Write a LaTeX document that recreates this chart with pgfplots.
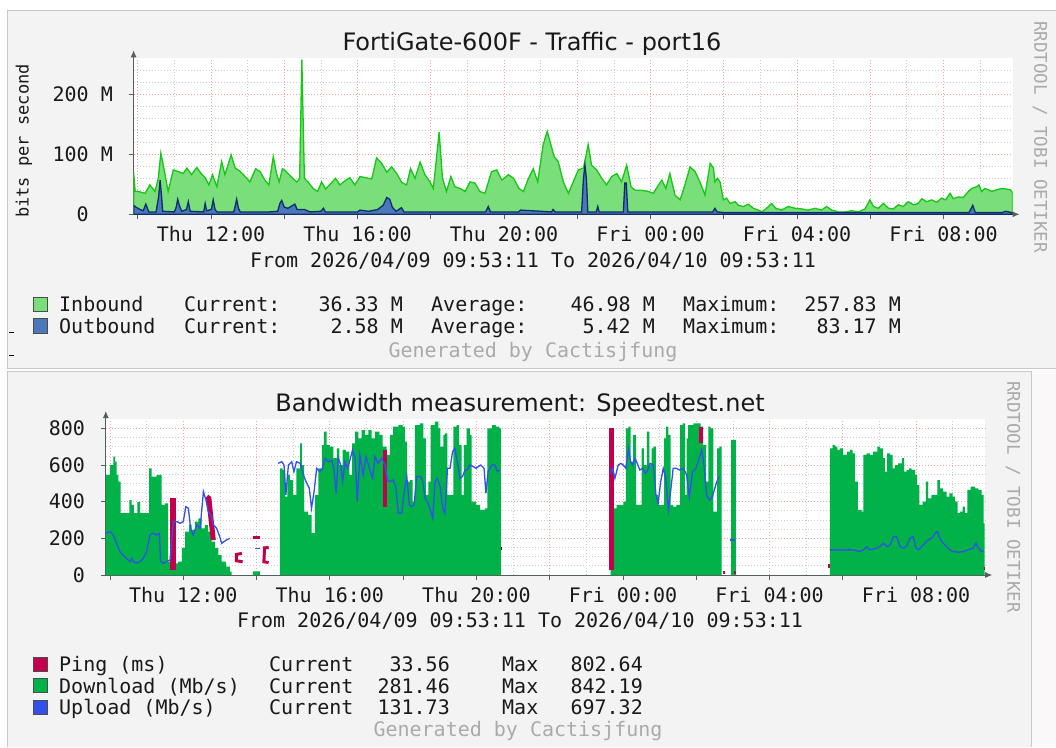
\documentclass[border=0pt]{standalone}
\usepackage{fontspec}
\setmainfont{DejaVu Sans}
\newfontfamily\mono{DejaVu Sans Mono}
\usepackage{pgfplots}
\pgfplotsset{compat=1.18}
\usetikzlibrary{arrows.meta}

\definecolor{panel}{RGB}{243,243,243}
\definecolor{rstrip}{RGB}{250,248,248}
\definecolor{panelborder}{RGB}{200,200,200}
\definecolor{inbfill}{RGB}{122,222,122}
\definecolor{inbline}{RGB}{20,200,20}
\definecolor{outfill}{RGB}{75,120,185}
\definecolor{outline}{RGB}{15,45,105}
\definecolor{dlgreen}{RGB}{0,178,72}
\definecolor{ulblue}{RGB}{50,80,235}
\definecolor{pingred}{RGB}{195,0,75}
\definecolor{mgrid}{RGB}{240,165,165}
\definecolor{ngrid}{RGB}{205,205,205}
\definecolor{axisgray}{RGB}{85,95,95}
\definecolor{txt}{RGB}{25,25,25}
\definecolor{faint}{RGB}{170,170,170}

\newcommand{\mf}{\mono\fontsize{20}{24}\selectfont}
\newcommand{\tf}{\fontsize{24}{28}\selectfont}

\pgfplotsset{
  rrd/.style={
    scale only axis,
    anchor=south west,
    axis x line*=bottom, axis y line*=left,
    every outer x axis line/.style={axisgray, line width=1pt, -{Latex[length=7pt,width=6pt]}, shorten >=-7pt},
    every outer y axis line/.style={axisgray, line width=1pt, -{Latex[length=7pt,width=6pt]}, shorten >=-8pt},
    axis background/.style={fill=white},
    xmin=9.886, xmax=33.886, ymin=0,
    xtick={10,12,...,32},
    xticklabels={,Thu 12:00,,Thu 16:00,,Thu 20:00,,Fri 00:00,,Fri 04:00,,Fri 08:00},
    minor xtick={11,13,...,33},
    grid=both,
    major grid style={mgrid, line width=0.7pt, dash pattern=on 1.5pt off 1.5pt},
    minor grid style={ngrid, line width=0.7pt, dash pattern=on 1.5pt off 1.5pt},
    tick style={axisgray, line width=0.8pt},
    tick align=outside,
    major tick length=5pt, minor tick length=0pt,
    xticklabel style={font=\mf, text=txt, anchor=base, inner sep=0pt, yshift=-22.5pt},
    yticklabel style={font=\mf, text=txt, anchor=east, inner sep=0pt, xshift=-15.6pt},
  }
}

\begin{document}
\begin{tikzpicture}
\useasboundingbox (0pt,0pt) rectangle (1056pt,-747pt);
\fill[white] (0pt,0pt) rectangle (1056pt,-747pt);
% panels
\fill[panel] (7pt,-10pt) rectangle (1056pt,-368pt);
\draw[panelborder, line width=1pt] (1056pt,-10pt) -- (7pt,-10pt) -- (7pt,-368pt) -- (1056pt,-368pt);
\fill[rstrip] (1031pt,-370pt) rectangle (1056pt,-747pt);
\fill[panel] (7pt,-371pt) rectangle (1031pt,-747pt);
\draw[panelborder, line width=1pt] (7pt,-747pt) -- (7pt,-371pt) -- (1031pt,-371pt) -- (1031pt,-747pt);
\draw[black, line width=0.6pt] (9pt,-332pt) -- (14pt,-332pt);
\draw[black, line width=0.6pt] (9pt,-355pt) -- (14pt,-355pt);

% ---------------- top chart ----------------
\begin{axis}[rrd, at={(133.6pt,-214.3pt)}, width=878.9pt, height=156pt,
  ymax=260, ytick={0,100,200}, yticklabels={0\phantom{\ M},100 M,200 M},
  minor ytick={20,40,60,80,120,140,160,180,220,240}]
\addplot[fill=inbfill, draw=inbline, line width=1.3pt] coordinates {
(9.886,70) (9.93,38) (10.02,38) (10.20,35) (10.33,49) (10.47,38) (10.56,60) (10.63,102) (10.73,71) (10.83,38)
(10.97,74) (11.11,71) (11.24,68) (11.34,77) (11.47,66) (11.61,78) (11.73,68) (11.84,61) (11.94,49) (12.04,66)
(12.16,46) (12.29,88) (12.38,66) (12.55,99) (12.66,77) (12.79,72) (12.93,63) (13.06,54) (13.22,76) (13.34,71)
(13.47,57) (13.58,49) (13.70,96) (13.79,68) (13.86,54) (13.95,76) (14.04,72) (14.18,63) (14.34,54) (14.42,60)
(14.48,257.8) (14.55,60) (14.66,53) (14.79,43) (14.91,38) (15.02,54) (15.13,42) (15.25,50) (15.40,60) (15.52,49)
(15.66,56) (15.79,61) (15.93,49) (16.07,63) (16.22,61) (16.39,59) (16.52,94) (16.66,85) (16.80,70) (16.93,79)
(17.07,68) (17.21,53) (17.34,49) (17.45,76) (17.57,60) (17.71,87) (17.84,66) (17.98,54) (18.07,43) (18.23,137)
(18.32,60) (18.43,38) (18.55,63) (18.66,46) (18.80,43) (18.94,38) (19.07,54) (19.21,52) (19.34,38) (19.48,35)
(19.66,71) (19.80,74) (19.94,57) (20.12,66) (20.26,60) (20.41,43) (20.53,38) (20.67,60) (20.80,76) (20.92,54)
(21.07,116) (21.18,138) (21.28,116) (21.37,96) (21.48,88) (21.62,54) (21.76,35) (21.89,54) (22.03,74) (22.17,77)
(22.30,116) (22.39,82) (22.53,74) (22.67,60) (22.80,49) (22.94,63) (23.08,68) (23.21,54) (23.35,82) (23.47,46)
(23.58,40) (23.76,40) (23.94,38) (24.08,35) (24.22,49) (24.31,57) (24.42,43) (24.53,68) (24.67,32) (24.81,24)
(24.94,49) (25.08,79) (25.22,71) (25.35,54) (25.49,32) (25.63,85) (25.72,77) (25.76,54) (25.83,60) (25.90,54)
(25.99,24) (26.08,27) (26.17,18) (26.31,21) (26.40,15) (26.54,13) (26.67,17) (26.81,10) (26.95,7) (27.04,4)
(27.17,10) (27.31,18) (27.42,10) (27.58,7) (27.76,13) (27.95,10) (28.13,9) (28.31,7) (28.49,10) (28.67,7)
(28.81,13) (28.95,7) (29.13,4) (29.31,4) (29.49,6) (29.68,4) (29.86,9) (29.99,24) (30.09,13) (30.22,10)
(30.36,18) (30.50,10) (30.63,9) (30.77,16) (30.90,13) (31.04,21) (31.18,16) (31.31,18) (31.41,26) (31.54,21)
(31.68,24) (31.82,20) (31.95,27) (32.06,24) (32.18,35) (32.27,26) (32.41,29) (32.54,28) (32.68,38) (32.77,43)
(32.91,46) (32.97,49) (33.04,38) (33.13,43) (33.23,41) (33.32,38) (33.45,41) (33.59,43) (33.73,42) (33.82,41)
(33.886,36.33)
} \closedcycle;
\addplot[fill=outfill, draw=outline, line width=1.3pt] coordinates {
(9.886,15) (9.95,12) (10.06,8) (10.15,6) (10.22,17) (10.30,4) (10.50,4) (10.57,30) (10.61,57) (10.65,30)
(10.68,5) (11.00,4) (11.05,12) (11.09,25) (11.14,14) (11.20,5) (11.33,8) (11.38,21) (11.43,5) (11.80,4)
(11.84,18) (11.88,6) (12.01,8) (12.06,24) (12.11,8) (12.16,4) (12.62,4) (12.67,16) (12.70,25) (12.75,10)
(12.80,4) (13.60,4) (13.82,5) (13.88,18) (13.93,23) (14.00,12) (14.10,10) (14.29,17) (14.35,8) (14.55,8)
(14.70,4) (15.00,5) (15.07,10) (15.12,4) (16.00,4) (16.07,7) (16.30,5) (16.55,8) (16.70,15) (16.80,28)
(16.88,25) (16.95,12) (17.05,5) (17.20,11) (17.27,4) (19.50,4) (19.57,13) (19.63,4) (20.40,4) (20.45,7)
(21.30,4) (21.34,8) (21.40,4) (22.12,4) (22.17,60) (22.21,82) (22.25,60) (22.29,4) (22.52,4) (22.56,13)
(22.60,4) (23.26,4) (23.30,52) (23.34,52) (23.38,4) (25.70,4) (25.76,10) (25.82,4) (26.00,3) (32.70,3)
(32.80,15) (32.87,3) (33.60,3) (33.70,5) (33.886,2.58)
} \closedcycle;
\end{axis}

% ---------------- bottom chart ----------------
\begin{axis}[rrd, at={(105.8pt,-575pt)}, width=879.4pt, height=156pt,
  ymax=851, ytick={0,200,400,600,800}, yticklabels={0,200,400,600,800},
  minor ytick={50,100,150,250,300,350,450,500,550,650,700,750}]
% Download blocks
\addplot[const plot, fill=dlgreen, draw=none] coordinates {
(9.89,546) (10.00,600) (10.09,646) (10.14,618) (10.18,546) (10.23,509) (10.29,337) (10.45,337) (10.53,409) (10.59,382)
(10.65,337) (10.75,397) (10.82,337) (11.00,337) (11.07,582) (11.14,537) (11.27,546) (11.35,546) (11.41,382) (11.50,391)
(11.59,73) (11.68,37) (11.77,64) (11.86,73) (11.96,146) (12.05,237) (12.16,273) (12.23,246) (12.32,291) (12.41,309)
(12.50,255) (12.59,273) (12.68,237) (12.77,182) (12.87,146) (12.96,109) (13.05,73) (13.17,46) (13.27,18) (13.32,18)
} \closedcycle;
\addplot[const plot, fill=dlgreen, draw=none] coordinates {(13.90,20) (14.10,20)} \closedcycle;
\addplot[const plot, fill=dlgreen, draw=none] coordinates {
(14.64,582) (14.71,573) (14.78,427) (14.84,546) (14.91,518) (15.00,437) (15.09,582) (15.19,718) (15.24,600) (15.30,346)
(15.41,328) (15.50,228) (15.59,437) (15.69,582) (15.78,709) (15.84,782) (15.91,709) (16.00,700) (16.10,637) (16.19,691)
(16.26,600) (16.35,682) (16.44,673) (16.53,546) (16.61,718) (16.69,782) (16.78,746) (16.87,791) (16.96,764) (17.05,791)
(17.14,746) (17.23,782) (17.35,764) (17.44,700) (17.55,655) (17.64,764) (17.73,809) (17.87,818) (17.99,809) (18.05,727)
(18.11,509) (18.19,518) (18.26,400) (18.32,818) (18.46,827) (18.55,746) (18.62,437) (18.69,509) (18.75,818) (18.87,837)
(18.96,800) (19.02,700) (19.10,764) (19.14,773) (19.21,437) (19.28,437) (19.37,809) (19.46,818) (19.53,709) (19.60,437)
(19.66,709) (19.73,800) (19.82,764) (19.87,400) (19.99,382) (20.10,355) (20.23,364) (20.30,800) (20.42,818) (20.53,809)
(20.63,800) (20.67,800)
} \closedcycle;
\addplot[const plot, fill=dlgreen, draw=none] coordinates {
(23.66,382) (23.75,364) (23.83,382) (23.92,382) (24.01,400) (24.08,800) (24.15,809) (24.21,618) (24.28,764) (24.36,382)
(24.45,382) (24.51,691) (24.57,600) (24.65,782) (24.72,600) (24.78,691) (24.83,700) (24.90,437) (24.96,382) (25.05,382)
(25.12,746) (25.17,809) (25.24,764) (25.30,382) (25.37,373) (25.46,382) (25.56,818) (25.63,827) (25.69,437) (25.74,745)
(25.78,818) (25.92,827) (26.06,827) (26.12,809) (26.19,709) (26.27,509) (26.33,809) (26.39,800) (26.47,346) (26.51,346)
(26.57,691) (26.63,700) (26.69,700)
} \closedcycle;
\addplot[const plot, fill=dlgreen, draw=none] coordinates {(26.95,737) (27.08,737)} \closedcycle;
\addplot[const plot, fill=dlgreen, draw=none] coordinates {
(29.65,691) (29.72,709) (29.79,700) (29.85,682) (29.92,691) (30.01,655) (30.11,673) (30.20,682) (30.27,664) (30.33,509)
(30.41,355) (30.51,346) (30.56,655) (30.65,664) (30.74,655) (30.83,673) (30.94,700) (31.01,691) (31.09,637) (31.15,564)
(31.21,664) (31.29,655) (31.36,582) (31.42,600) (31.51,609) (31.61,637) (31.67,564) (31.74,573) (31.81,582) (31.88,573)
(31.97,546) (32.03,491) (32.09,382) (32.18,400) (32.27,509) (32.33,418) (32.42,437) (32.52,437) (32.58,518) (32.65,473)
(32.74,455) (32.83,428) (32.91,446) (33.00,428) (33.06,400) (33.13,337) (33.20,346) (33.27,373) (33.33,337) (33.40,464)
(33.49,482) (33.61,473) (33.70,464) (33.79,437) (33.84,281.46) (33.87,281.46)
} \closedcycle;
% Ping
\addplot[pingred, line width=6pt] coordinates {(11.72,418) (11.72,30)};
\addplot[pingred, line width=5pt] coordinates {(12.64,427) (12.70,418) (12.76,300) (12.82,190)};
\addplot[pingred, line width=3pt] coordinates {(13.60,118) (13.45,112) (13.45,78) (13.62,72)};
\addplot[pingred, line width=3.5pt] coordinates {(13.90,205) (14.10,205)};
\addplot[pingred, line width=3pt] coordinates {(14.33,150) (14.22,148) (14.20,72) (14.33,68)};
\addplot[pingred, line width=3.5pt] coordinates {(17.50,682) (17.50,373)};
\addplot[pingred!60!black, line width=3pt] coordinates {(20.66,146) (20.70,146)};
\addplot[pingred, line width=5pt] coordinates {(23.70,802.64) (23.70,30)};
\addplot[pingred, line width=4pt] coordinates {(26.13,809) (26.13,718)};
\addplot[pingred, line width=3pt] coordinates {(26.72,14) (26.78,14)};
\addplot[pingred, line width=3pt] coordinates {(27.02,14) (27.08,14)};
\addplot[pingred, line width=3.5pt] coordinates {(29.60,48) (29.66,48)};
\addplot[pingred, line width=3pt] coordinates {(33.84,33.56) (33.88,33.56)};
% Upload
\addplot[ulblue, line width=1.3pt] coordinates {
(9.89,228) (10.00,237) (10.09,218) (10.18,173) (10.27,128) (10.36,109) (10.45,91) (10.55,73) (10.59,91) (10.64,73)
(10.73,64) (10.82,73) (10.91,91) (11.00,128) (11.09,218) (11.18,228) (11.27,218) (11.35,228) (11.38,73) (11.46,64)
(11.55,73) (11.64,82) (11.73,291) (11.84,291) (11.91,282) (12.00,291) (12.07,373) (12.14,364) (12.20,255) (12.27,218)
(12.37,273) (12.46,255) (12.55,455) (12.62,409) (12.68,346) (12.75,328) (12.82,273) (12.91,255) (12.98,218) (13.05,173)
(13.11,182) (13.18,191) (13.27,200)
};
\addplot[ulblue, line width=1.3pt] coordinates {(13.96,146) (14.09,146)};
\addplot[ulblue, line width=1.3pt] coordinates {
(14.59,609) (14.69,618) (14.75,600) (14.80,437) (14.87,600) (14.96,618) (15.02,564) (15.09,618) (15.19,609) (15.28,546)
(15.35,509) (15.44,473) (15.50,364) (15.57,455) (15.64,582) (15.73,564) (15.80,582) (15.87,637) (15.96,618) (16.05,627)
(16.11,582) (16.17,446) (16.23,637) (16.30,600) (16.35,509) (16.41,618) (16.48,582) (16.55,627) (16.62,682) (16.69,637)
(16.75,400) (16.82,655) (16.91,546) (16.99,646) (17.08,582) (17.17,527) (17.23,646) (17.32,609) (17.41,637) (17.51,600)
(17.57,518) (17.64,509) (17.73,518) (17.80,482) (17.87,337) (17.96,337) (18.02,437) (18.10,537) (18.17,382) (18.23,373)
(18.30,382) (18.37,537) (18.46,537) (18.53,518) (18.60,418) (18.66,400) (18.73,364) (18.81,309) (18.87,509) (18.93,527)
(19.01,482) (19.08,364) (19.14,337) (19.21,582) (19.28,582) (19.35,673) (19.41,691) (19.48,618) (19.55,527) (19.62,537)
(19.69,573) (19.75,573) (19.82,600) (19.92,591) (19.99,582) (20.05,591) (20.12,600) (20.21,582) (20.26,446) (20.32,564)
(20.42,600) (20.51,600) (20.57,564) (20.63,573)
};
\addplot[ulblue, line width=1.3pt] coordinates {
(23.65,555) (23.72,582) (23.78,527) (23.87,600) (23.94,609) (24.01,600) (24.08,582) (24.15,691) (24.21,618) (24.26,600)
(24.33,637) (24.39,609) (24.46,573) (24.54,582) (24.60,555) (24.66,564) (24.74,609) (24.83,600) (24.90,437) (24.96,391)
(25.03,509) (25.10,582) (25.17,527) (25.24,355) (25.30,455) (25.37,582) (25.46,582) (25.54,573) (25.65,582) (25.74,546)
(25.81,427) (25.90,564) (25.99,582) (26.08,637) (26.15,682) (26.21,600) (26.28,437) (26.36,409) (26.42,418) (26.48,455)
(26.56,509) (26.63,537)
};
\addplot[ulblue, line width=1.3pt] coordinates {(26.92,191) (27.06,191)};
\addplot[ulblue, line width=1.3pt] coordinates {
(29.65,137) (29.92,137) (30.29,137) (30.47,128) (30.56,137) (30.65,155) (30.74,137) (30.92,146) (31.01,155) (31.11,173)
(31.20,155) (31.29,164) (31.38,209) (31.47,209) (31.56,155) (31.65,146) (31.74,155) (31.83,200) (31.92,209) (32.00,146)
(32.06,137) (32.15,155) (32.24,173) (32.33,191) (32.42,200) (32.52,227) (32.58,237) (32.65,200) (32.74,173) (32.83,155)
(32.92,137) (33.02,128) (33.15,124) (33.29,128) (33.43,137) (33.56,146) (33.63,173) (33.70,146) (33.79,128) (33.84,131.73)
};
\end{axis}

% ---------------- texts: top panel ----------------
\tikzset{t/.style={inner sep=0pt, text=txt, font=\mf}}
\node[t, font=\tf, anchor=base] at (532pt,-50pt) {FortiGate-600F - Traffic - port16};
\node[t, font=\mono\fontsize{17}{20}\selectfont, rotate=90, anchor=center] at (24pt,-141pt) {bits per second};
\node[t, anchor=base] at (533pt,-267pt) {From 2026/04/09 09:53:11 To 2026/04/10 09:53:11};
\node[t, font=\mono\fontsize{17.5}{20}\selectfont, text=faint, rotate=-90, anchor=center] at (1040pt,-137pt) {RRDTOOL / TOBI OETIKER};
\node[t, text=faint, anchor=base] at (533pt,-357pt) {Generated by Cactisjfung};

\fill[inbfill] (33pt,-297pt) rectangle (47pt,-311.5pt);
\draw[gray!60!black, line width=0.6pt] (33pt,-297pt) rectangle (47pt,-311.5pt);
\fill[outfill] (33pt,-318.5pt) rectangle (47pt,-333pt);
\draw[gray!60!black, line width=0.6pt] (33pt,-318.5pt) rectangle (47pt,-333pt);

\node[t, anchor=base west] at (59pt,-311pt) {Inbound};
\node[t, anchor=base west] at (184pt,-311pt) {Current:};
\node[t, anchor=base east] at (403pt,-311pt) {36.33 M};
\node[t, anchor=base west] at (431pt,-311pt) {Average:};
\node[t, anchor=base east] at (655pt,-311pt) {46.98 M};
\node[t, anchor=base west] at (683pt,-311pt) {Maximum:};
\node[t, anchor=base east] at (901pt,-311pt) {257.83 M};

\node[t, anchor=base west] at (59pt,-333pt) {Outbound};
\node[t, anchor=base west] at (184pt,-333pt) {Current:};
\node[t, anchor=base east] at (403pt,-333pt) {2.58 M};
\node[t, anchor=base west] at (431pt,-333pt) {Average:};
\node[t, anchor=base east] at (655pt,-333pt) {5.42 M};
\node[t, anchor=base west] at (683pt,-333pt) {Maximum:};
\node[t, anchor=base east] at (901pt,-333pt) {83.17 M};

% ---------------- texts: bottom panel ----------------
\node[t, font=\tf, anchor=base] at (520pt,-411.5pt) {Bandwidth measurement: Speedtest.net};
\node[t, anchor=base] at (520pt,-627pt) {From 2026/04/09 09:53:11 To 2026/04/10 09:53:11};
\node[t, font=\mono\fontsize{17.5}{20}\selectfont, text=faint, rotate=-90, anchor=center] at (1013pt,-497pt) {RRDTOOL / TOBI OETIKER};
\node[t, text=faint, anchor=base] at (518pt,-736.5pt) {Generated by Cactisjfung};

\fill[pingred] (33pt,-657pt) rectangle (47pt,-671.5pt);
\draw[gray!60!black, line width=0.6pt] (33pt,-657pt) rectangle (47pt,-671.5pt);
\fill[dlgreen] (33pt,-678.5pt) rectangle (47pt,-692.5pt);
\draw[gray!60!black, line width=0.6pt] (33pt,-678.5pt) rectangle (47pt,-692.5pt);
\fill[ulblue] (33pt,-700pt) rectangle (47pt,-714pt);
\draw[gray!60!black, line width=0.6pt] (33pt,-700pt) rectangle (47pt,-714pt);

\node[t, anchor=base west] at (59pt,-671.5pt) {Ping (ms)};
\node[t, anchor=base west] at (269pt,-671.5pt) {Current};
\node[t, anchor=base east] at (450pt,-671.5pt) {33.56};
\node[t, anchor=base west] at (502pt,-671.5pt) {Max};
\node[t, anchor=base east] at (643pt,-671.5pt) {802.64};

\node[t, anchor=base west] at (59pt,-693pt) {Download (Mb/s)};
\node[t, anchor=base west] at (269pt,-693pt) {Current};
\node[t, anchor=base east] at (450pt,-693pt) {281.46};
\node[t, anchor=base west] at (502pt,-693pt) {Max};
\node[t, anchor=base east] at (643pt,-693pt) {842.19};

\node[t, anchor=base west] at (59pt,-714.5pt) {Upload (Mb/s)};
\node[t, anchor=base west] at (269pt,-714.5pt) {Current};
\node[t, anchor=base east] at (450pt,-714.5pt) {131.73};
\node[t, anchor=base west] at (502pt,-714.5pt) {Max};
\node[t, anchor=base east] at (643pt,-714.5pt) {697.32};
\end{tikzpicture}
\end{document}
